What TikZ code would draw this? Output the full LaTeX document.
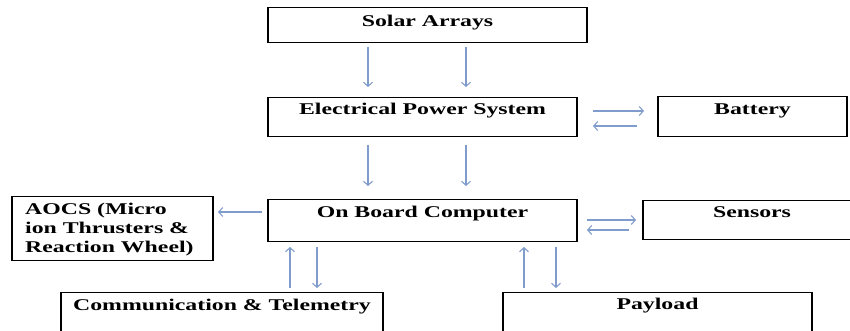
\documentclass[tikz,border=0pt]{standalone}
\usepackage{fontspec}
\setmainfont{Liberation Serif}[FakeStretch=1.45]
\usetikzlibrary{arrows.meta}
\definecolor{arrowc}{RGB}{128,156,204}
\tikzset{
  box/.style={draw=black, line width=1.3pt, rectangle, inner ysep=0pt, inner xsep=2pt,
    font=\fontsize{16.4}{19}\selectfont\bfseries, anchor=north},
  conn/.style={draw=arrowc, line width=1.1pt, -{Straight Barb[length=4pt,width=9pt,line width=1.1pt]}},
  txt/.style={inner sep=0pt, font=\fontsize{16.4}{19}\selectfont\bfseries}
}
\begin{document}
\begin{tikzpicture}[x=1pt,y=-1pt]
\useasboundingbox (0,0) rectangle (850,331);
\begin{scope}
\clip (0,0) rectangle (850,331);
% boxes
\node[box, minimum width=319pt, text height=18.5pt, text depth=16.5pt] (solar) at (427.5,7) {Solar Arrays};
\node[box, minimum width=309pt, text height=17pt, text depth=22pt] (eps) at (422.5,97) {Electrical Power System};
\node[box, minimum width=189pt, text height=18pt, text depth=22pt] (bat) at (752.5,96) {Battery};
\node[box, minimum width=309pt, text height=18pt, text depth=24pt] (obc) at (422.5,199) {On Board Computer};
\node[box, minimum width=218pt, text height=17pt, text depth=22pt] (sens) at (752,200) {Sensors};
\node[box, minimum width=322pt, text height=18pt, text depth=35pt] (comm) at (222,292) {Communication \& Telemetry};
\node[box, minimum width=309pt, text height=17pt, text depth=36pt] (pay) at (657.5,292) {Payload};
\node[box, minimum width=201pt, minimum height=64pt] (aocs) at (112.5,196) {};
\node[txt, anchor=north west, align=left] (aocst) at (25,202.5) {AOCS (Micro\\ion Thrusters \&\\Reaction Wheel)};
% free connector ends
\coordinate (s1a) at (368,47); \coordinate (s1b) at (368,87);
\coordinate (s2a) at (466,47); \coordinate (s2b) at (466,87);
\coordinate (e1a) at (368,145); \coordinate (e1b) at (368,186);
\coordinate (e2a) at (466,145); \coordinate (e2b) at (466,186);
\coordinate (b1a) at (593,111); \coordinate (b1b) at (644,111);
\coordinate (b2a) at (637,126); \coordinate (b2b) at (593,126);
\coordinate (aa) at (262,212); \coordinate (ab) at (218,212);
\coordinate (n1a) at (587,220); \coordinate (n1b) at (636,220);
\coordinate (n2a) at (629,230); \coordinate (n2b) at (587,230);
\coordinate (c1a) at (290,288); \coordinate (c1b) at (290,247);
\coordinate (c2a) at (317,247); \coordinate (c2b) at (317,288);
\coordinate (p1a) at (524,288); \coordinate (p1b) at (524,247);
\coordinate (p2a) at (556,247); \coordinate (p2b) at (556,288);
% connectors
\draw[conn] (s1a) -- (s1b);
\draw[conn] (s2a) -- (s2b);
\draw[conn] (e1a) -- (e1b);
\draw[conn] (e2a) -- (e2b);
\draw[conn] (b1a) -- (b1b);
\draw[conn] (b2a) -- (b2b);
\draw[conn] (aa) -- (ab);
\draw[conn] (n1a) -- (n1b);
\draw[conn] (n2a) -- (n2b);
\draw[conn] (c1a) -- (c1b);
\draw[conn] (c2a) -- (c2b);
\draw[conn] (p1a) -- (p1b);
\draw[conn] (p2a) -- (p2b);
\end{scope}
\end{tikzpicture}
\end{document}
